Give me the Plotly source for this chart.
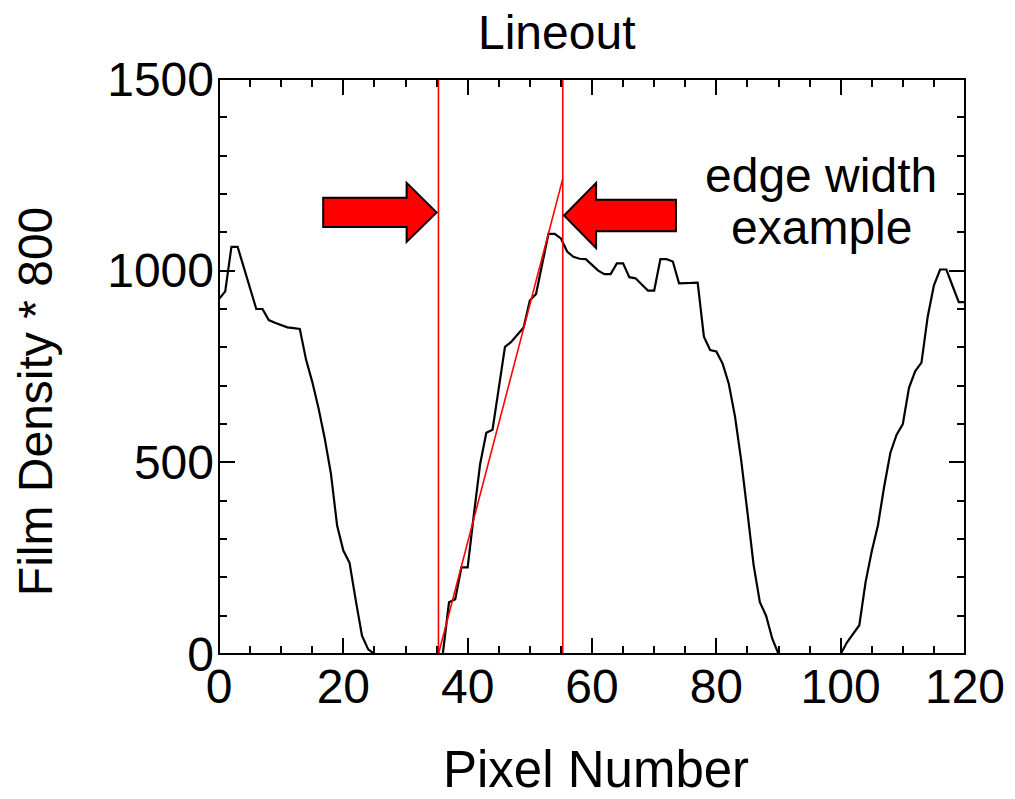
import plotly.graph_objects as go

# Lineout across the film: pixel index vs. film density (scaled by 800)
pixel = list(range(121))
density = [
    926, 946, 1062, 1062, 1008, 954, 900, 900, 871, 864,
    858, 852, 850, 848, 768, 710, 642, 563, 471, 335,
    270, 238, 140, 48, 12, 0, 0, 0, 0, 0,
    0, 0, 0, 0, 0, 0, 0, 135, 143, 226,
    226, 364, 495, 577, 585, 693, 801, 814, 833, 852,
    922, 939, 1018, 1096, 1096, 1084, 1050, 1036, 1031, 1030,
    1015, 1000, 991, 991, 1019, 1019, 983, 980, 964, 948,
    948, 1030, 1030, 1024, 967, 967, 968, 969, 828, 793,
    789, 758, 705, 620, 505, 370, 232, 135, 100, 40,
    0, 0, 0, 0, 0, 0, 0, 0, 0, 0,
    0, 30, 52, 75, 187, 268, 336, 437, 525, 572,
    600, 695, 738, 760, 880, 962, 1003, 1003, 960, 918,
    918,
]

# Edge-width markers: the two bounding pixels and the linear fit of the rising edge
edge_x = [35.3, 55.3]
edge_fit_y = [0, 1240]

x_ticks = [0, 20, 40, 60, 80, 100, 120]
y_ticks = [0, 500, 1000, 1500]

FONT = "Liberation Sans, Arial, sans-serif"

fig = go.Figure()

fig.add_trace(go.Scatter(
    x=pixel, y=density, mode="lines",
    line=dict(color="black", width=2.2),
    showlegend=False, hoverinfo="skip",
))

# fitted edge slope
fig.add_trace(go.Scatter(
    x=edge_x, y=edge_fit_y, mode="lines",
    line=dict(color="#ff0000", width=1.6),
    showlegend=False, hoverinfo="skip",
))

# vertical bounds of the edge
for ex in edge_x:
    fig.add_shape(type="line", xref="x", yref="paper",
                  x0=ex, x1=ex, y0=0, y1=1,
                  line=dict(color="#ff0000", width=1.6), layer="above")


def arrow_path(tail, head_base, tip, yc, body_half, head_half):
    return (f"M {tail},{yc - body_half} L {head_base},{yc - body_half} "
            f"L {head_base},{yc - head_half} L {tip},{yc} "
            f"L {head_base},{yc + head_half} L {head_base},{yc + body_half} "
            f"L {tail},{yc + body_half} Z")


arrow_style = dict(type="path", xref="x", yref="y",
                   fillcolor="#ff0000", line=dict(color="black", width=2),
                   layer="above")

# right-pointing arrow towards the left edge bound
fig.add_shape(path=arrow_path(16.76, 30.18, 35.0, 1152, 38, 77), **arrow_style)
# left-pointing arrow towards the right edge bound
fig.add_shape(path=arrow_path(73.5, 60.66, 55.5, 1144, 41, 85), **arrow_style)

# plot frame (drawn on top so the zero-level trace merges with the axis)
fig.add_shape(type="rect", xref="paper", yref="paper", x0=0, x1=1, y0=0, y1=1,
              line=dict(color="black", width=2), fillcolor="rgba(0,0,0,0)",
              layer="above")


def ann_font(size):
    return dict(family=FONT, size=size, color="black")


fig.add_annotation(text="Lineout", xref="paper", yref="paper",
                   x=0.453, y=1.0817, xanchor="center", yanchor="middle",
                   showarrow=False, font=ann_font(48))
fig.add_annotation(text="Pixel Number", xref="paper", yref="paper",
                   x=0.506, y=-0.201, xanchor="center", yanchor="middle",
                   showarrow=False, font=ann_font(51))
fig.add_annotation(text="Film Density * 800", xref="paper", yref="paper",
                   x=-0.2466, y=0.438, xanchor="center", yanchor="middle",
                   textangle=-90, showarrow=False, font=ann_font(48))
fig.add_annotation(text="edge width", xref="paper", yref="paper",
                   x=0.807, y=0.833, xanchor="center", yanchor="middle",
                   showarrow=False, font=ann_font(48))
fig.add_annotation(text="example", xref="paper", yref="paper",
                   x=0.807, y=0.741, xanchor="center", yanchor="middle",
                   showarrow=False, font=ann_font(48))

axis_common = dict(
    showgrid=False, zeroline=False,
    showline=False, mirror="ticks",
    ticks="inside", ticklen=16, tickwidth=2, tickcolor="black",
    tickfont=dict(family=FONT, size=48, color="black"),
)

fig.update_xaxes(range=[0, 120], tickmode="array", tickvals=x_ticks,
                 ticktext=[str(v) for v in x_ticks],
                 minor=dict(dtick=5, ticks="inside", ticklen=8,
                            tickwidth=2, tickcolor="black", showgrid=False),
                 **axis_common)
fig.update_yaxes(range=[0, 1500], tickmode="array", tickvals=y_ticks,
                 ticktext=[str(v) for v in y_ticks], ticklabelstandoff=4,
                 minor=dict(dtick=100, ticks="inside", ticklen=8,
                            tickwidth=2, tickcolor="black", showgrid=False),
                 **axis_common)

fig.update_layout(
    width=1015, height=799,
    margin=dict(l=219, r=50, t=79, b=145, autoexpand=False),
    paper_bgcolor="white", plot_bgcolor="white",
    font=dict(family=FONT, size=46, color="black"),
)

fig.write_html("out.html")
